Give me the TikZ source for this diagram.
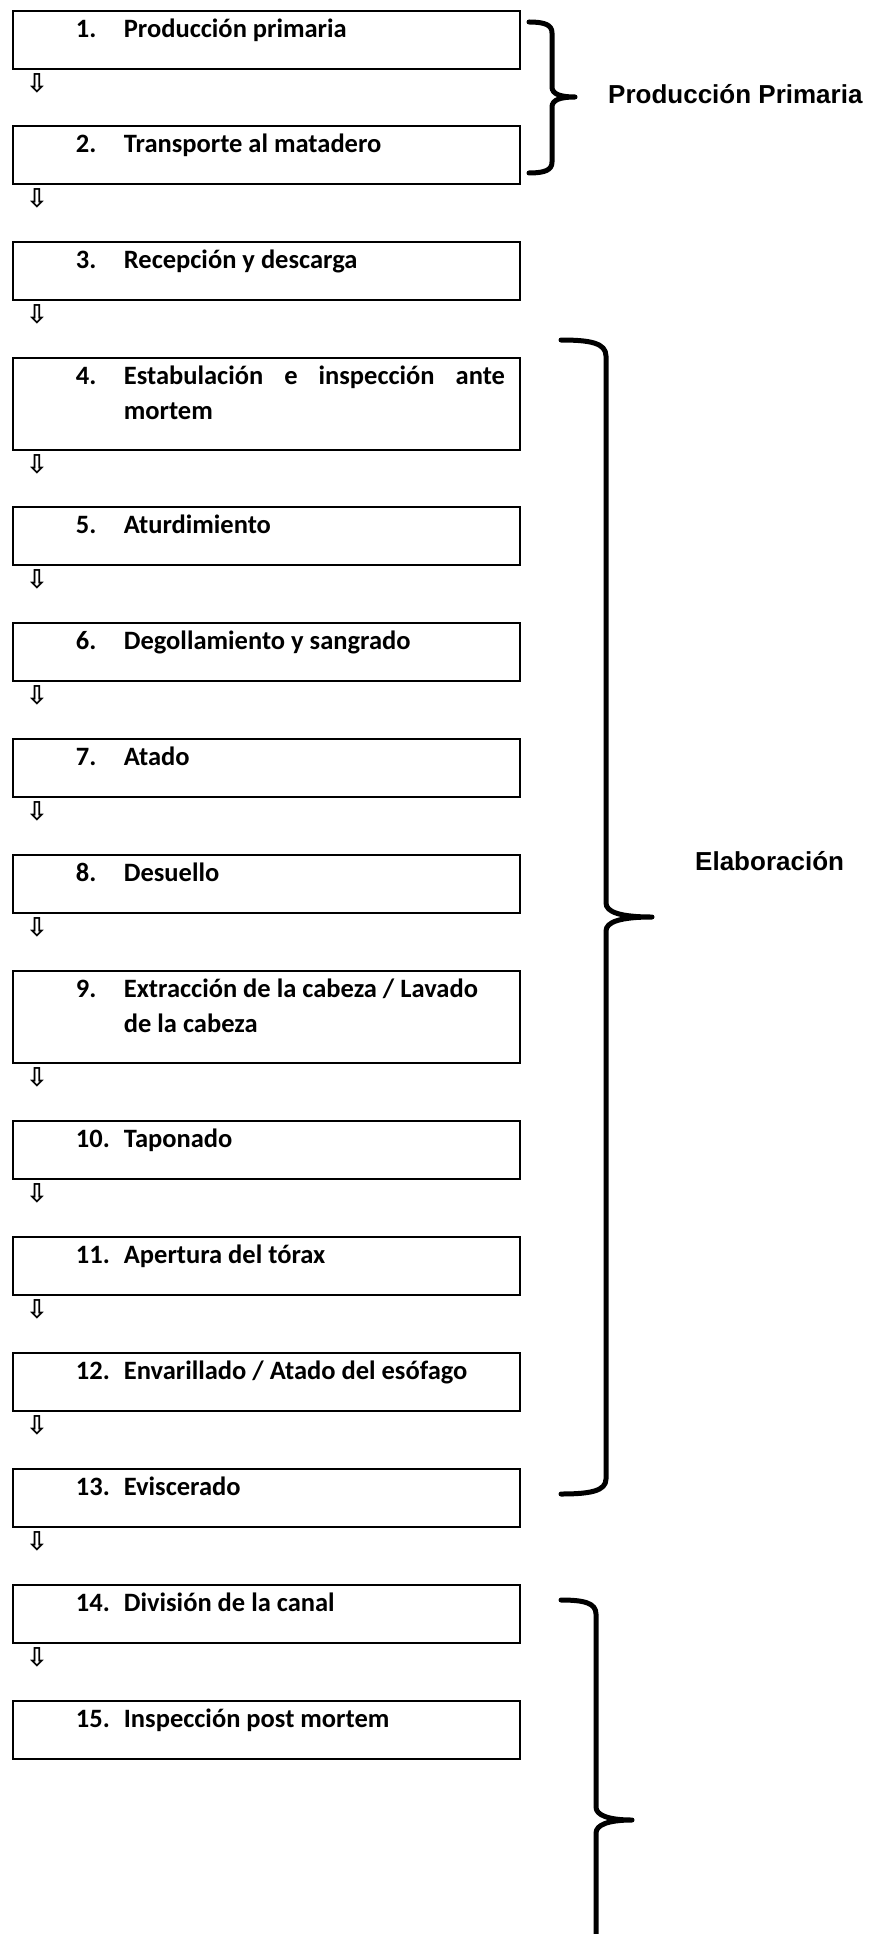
\documentclass[tikz,border=0pt]{standalone}
\usepackage{fontspec}
\setmainfont{Carlito}
\newfontfamily\etiqueta{Liberation Sans}
\newfontfamily\flechas{DejaVu Sans}
% texto de cada caja: alto, numero, texto
\newcommand{\caja}[3]{\parbox[c][#1][t]{507pt}{\leftskip=111pt\rightskip=15pt\parfillskip=0pt plus 1fil\noindent\llap{\makebox[48pt][l]{#2}}\rule{0pt}{27pt}#3\par}}
\begin{document}
\begin{tikzpicture}[x=1pt,y=-1pt,
    paso/.style={draw, line width=1.8pt, anchor=north west, inner sep=0pt,
      font=\fontsize{26.5}{35}\selectfont\bfseries},
    flecha/.style={inner sep=0pt, font=\flechas\fontsize{26}{26}\selectfont\bfseries},
    llave/.style={line width=5pt, line cap=round, line join=round},
    grupo/.style={anchor=base west, inner sep=0pt, font=\etiqueta\fontsize{26}{26}\selectfont\bfseries}]
                \useasboundingbox (0,0) rectangle (871,1934);

                \node[paso] (p1) at (12,10) {\caja{58pt}{1.}{Producción primaria}};
                \node[paso] (p2) at (12,125) {\caja{58pt}{2.}{Transporte al matadero}};
                \node[paso] (p3) at (12,241) {\caja{58pt}{3.}{Recepción y descarga}};
                \node[paso] (p4) at (12,357) {\caja{92pt}{4.}{Estabulación e inspección ante mortem}};
                \node[paso] (p5) at (12,506) {\caja{58pt}{5.}{Aturdimiento}};
                \node[paso] (p6) at (12,622) {\caja{58pt}{6.}{Degollamiento y sangrado}};
                \node[paso] (p7) at (12,738) {\caja{58pt}{7.}{Atado}};
                \node[paso] (p8) at (12,854) {\caja{58pt}{8.}{Desuello}};
                \node[paso] (p9) at (12,970) {\caja{92pt}{9.}{Extracción de la cabeza / Lavado\\de la cabeza}};
                \node[paso] (p10) at (12,1120) {\caja{58pt}{10.}{Taponado}};
                \node[paso] (p11) at (12,1236) {\caja{58pt}{11.}{Apertura del tórax}};
                \node[paso] (p12) at (12,1352) {\caja{58pt}{12.}{Envarillado / Atado del esófago}};
                \node[paso] (p13) at (12,1468) {\caja{58pt}{13.}{Eviscerado}};
                \node[paso] (p14) at (12,1584) {\caja{58pt}{14.}{División de la canal}};
                \node[paso] (p15) at (12,1700) {\caja{58pt}{15.}{Inspección post mortem}};

                \node[flecha] (f1) at ([shift={(25,14)}]p1.south west) {⇩};
                \node[flecha] (f2) at ([shift={(25,14)}]p2.south west) {⇩};
                \node[flecha] (f3) at ([shift={(25,14)}]p3.south west) {⇩};
                \node[flecha] (f4) at ([shift={(25,14)}]p4.south west) {⇩};
                \node[flecha] (f5) at ([shift={(25,14)}]p5.south west) {⇩};
                \node[flecha] (f6) at ([shift={(25,14)}]p6.south west) {⇩};
                \node[flecha] (f7) at ([shift={(25,14)}]p7.south west) {⇩};
                \node[flecha] (f8) at ([shift={(25,14)}]p8.south west) {⇩};
                \node[flecha] (f9) at ([shift={(25,14)}]p9.south west) {⇩};
                \node[flecha] (f10) at ([shift={(25,14)}]p10.south west) {⇩};
                \node[flecha] (f11) at ([shift={(25,14)}]p11.south west) {⇩};
                \node[flecha] (f12) at ([shift={(25,14)}]p12.south west) {⇩};
                \node[flecha] (f13) at ([shift={(25,14)}]p13.south west) {⇩};
                \node[flecha] (f14) at ([shift={(25,14)}]p14.south west) {⇩};

                % llaves
                \draw[llave] (529,22) .. controls (545,22) and (552,25) .. (552,33)
                  -- (552,87) .. controls (552,94) and (560,97) .. (575,97)
                  .. controls (560,97) and (552,100) .. (552,107)
                  -- (552,162) .. controls (552,170) and (545,173) .. (529,173);
                \draw[llave] (561,340) .. controls (590,340) and (606,343) .. (606,356)
                  -- (606,903) .. controls (606,912) and (620,917) .. (652,917)
                  .. controls (620,917) and (606,922) .. (606,931)
                  -- (606,1479) .. controls (606,1491) and (590,1494) .. (561,1494);
                \draw[llave] (561,1600) .. controls (584,1600) and (596,1603) .. (596,1614)
                  -- (596,1807) .. controls (596,1815) and (608,1820) .. (632,1820)
                  .. controls (608,1820) and (596,1825) .. (596,1833)
                  -- (596,1934);

                \node[grupo] (g1) at (608,104) {Producción Primaria};
                \node[grupo] (g2) at (695,870) {Elaboración};
\end{tikzpicture}
\end{document}
